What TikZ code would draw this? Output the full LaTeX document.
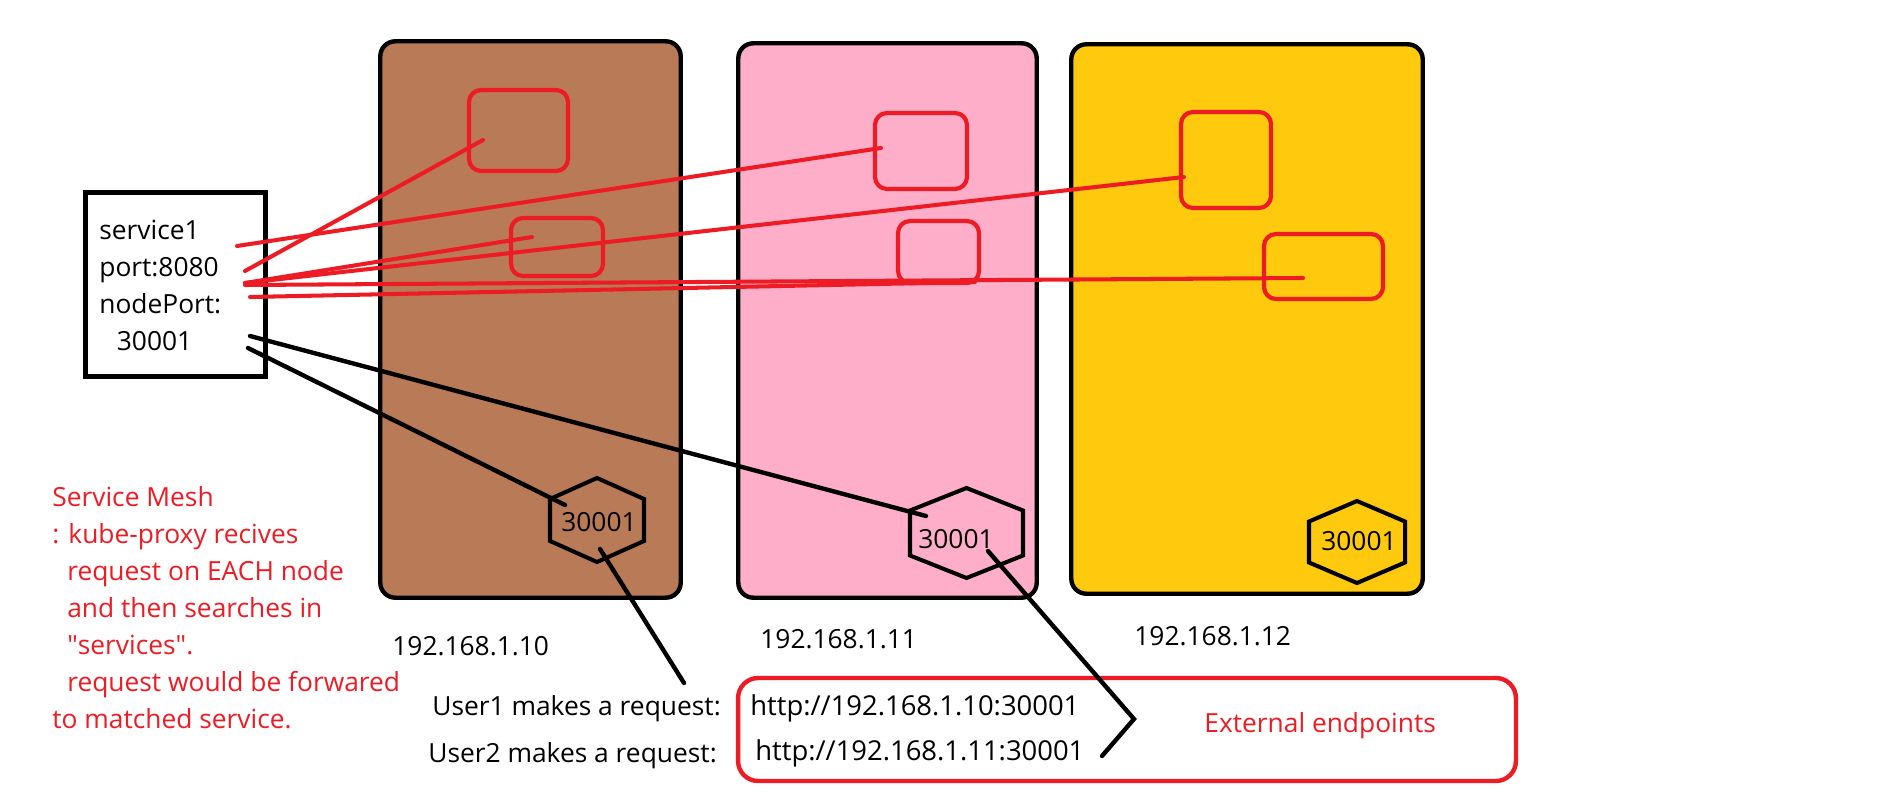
\documentclass[tikz,border=0pt]{standalone}
\usepackage{fontspec}
\setmainfont{Open Sans}
\usetikzlibrary{calc}
\usetikzlibrary{positioning}

\definecolor{nodebrown}{RGB}{185,122,87}
\definecolor{nodepink}{RGB}{255,174,201}
\definecolor{nodegold}{RGB}{255,201,14}
\definecolor{paintred}{RGB}{237,28,36}

\tikzset{
  hostbox/.style={draw=black, line width=2.5pt, rounded corners=0.3cm, inner sep=0pt},
  podbox/.style={draw=paintred, line width=2.4pt, rounded corners=0.24cm, inner sep=0pt},
  redwire/.style={paintred, line width=2.3pt, line cap=round},
  blackwire/.style={black, line width=2.5pt, line cap=round},
  hexedge/.style={black, line width=2.3pt, line join=miter},
  txt/.style={font=\fontsize{15}{21}\selectfont, inner sep=0pt},
}

\begin{document}
\begin{tikzpicture}[%
  x=0.02cm, y=-0.02cm,
]
  \useasboundingbox (0,0) rectangle (1892,797);

  % the three hosts
  \node[hostbox, fill=nodebrown, minimum width=6.01cm, minimum height=11.13cm] (hostA) at (530.5,319.5) {};
  \node[hostbox, fill=nodepink, minimum width=5.97cm, minimum height=11.09cm] (hostB) at (887.5,320.5) {};
  \node[hostbox, fill=nodegold, minimum width=7.03cm, minimum height=10.99cm] (hostC) at (1247,319) {};

  % pods
  \node[podbox, minimum width=1.98cm, minimum height=1.62cm] (podA1) at (518.5,130.5) {};
  \node[podbox, minimum width=1.84cm, minimum height=1.16cm] (podA2) at (557,247) {};
  \node[podbox, minimum width=1.84cm, minimum height=1.52cm] (podB1) at (921,151) {};
  \node[podbox, minimum width=1.62cm, minimum height=1.24cm] (podB2) at (938.5,252) {};
  \node[podbox, minimum width=1.80cm, minimum height=1.92cm] (podC1) at (1226,160) {};
  \node[podbox, minimum width=2.38cm, minimum height=1.30cm] (podC2) at (1323.5,266.5) {};

  % node ports
  \foreach \cx/\cy/\w/\h in {597/520/47/42, 966.5/533/56.5/45, 1357/542/48/41}
    \draw[hexedge] (\cx,\cy-\h) -- (\cx+\w,\cy-\h/2) -- (\cx+\w,\cy+\h/2)
      -- (\cx,\cy+\h) -- (\cx-\w,\cy+\h/2) -- (\cx-\w,\cy-\h/2) -- cycle;
  \node[txt] (portA) at (599,522) {30001};
  \node[txt] (portB) at (956,539) {30001};
  \node[txt] (portC) at (1359,541) {30001};

  % service
  \node[draw=black, line width=2.5pt, minimum width=3.6cm, minimum height=3.68cm] (svc) at (175.5,284.5) {};
  \node[txt, anchor=base west, align=left] (svctext) at (99,350)
    {service1\\port:8080\\nodePort:\\\hspace*{10pt}30001};

  \coordinate (s1) at (237,246);
  \coordinate (s2) at (245,271);
  \coordinate (s3) at (245,283);
  \coordinate (s4) at (245,285);
  \coordinate (s5) at (250,297);
  \coordinate (k1) at (250,336);
  \coordinate (k2) at (248,348);

  \draw[redwire] (s1) -- ($(podB1)+(-40,-3)$);
  \draw[redwire] (s2) -- ($(podA1)+(-35.5,9.5)$);
  \draw[redwire] (s3) -- ($(podA2)+(-25,-10)$);
  \draw[redwire] (s3) -- ($(podC1)+(-42,17)$);
  \draw[redwire] (s4) -- ($(podC2)+(-20.5,11.5)$);
  \draw[redwire] (s5) -- ($(podB2)+(36.5,30)$);

  \draw[blackwire] (k2) -- ($(portA)+(-34,-17)$);
  \draw[blackwire] (k1) -- ($(portB)+(-30,-23)$);

  % addresses
  \node[txt, anchor=base west] (ipA) at (392,655) {192.168.1.10};
  \node[txt, anchor=base west] (ipB) at (760,648) {192.168.1.11};
  \node[txt, anchor=base west] (ipC) at (1134,645) {192.168.1.12};

  % requests
  \node[draw=paintred, line width=2.5pt, rounded corners=0.4cm,
    minimum width=15.56cm, minimum height=2.06cm] (ext) at (1127,729.5) {};
  \node[txt, anchor=base west, text=paintred] (extlabel) at (1204,732) {External endpoints};
  \node[txt, anchor=base west] (user1) at (432,715) {User1 makes a request:};
  \node[txt, anchor=base west] (user2) at (428,762) {User2 makes a request:};
  \node[txt, anchor=base west, font=\fontsize{15.6}{21}\selectfont] (url1) at (750,715) {http://192.168.1.10:30001};
  \node[txt, anchor=base west, font=\fontsize{15.6}{21}\selectfont] (url2) at (755,760) {http://192.168.1.11:30001};

  \coordinate (u1) at (684,683);
  \coordinate (bend) at (1134,719);
  \coordinate (u2) at (1102,756);
  \draw[blackwire] ($(portA)+(1,27)$) -- (u1);
  \draw[blackwire] ($(portB)+(32,12)$) -- (bend) -- (u2);

  % note
  \node[txt, anchor=base west, text=paintred, align=left] (note) at (52,728)
    {Service Mesh\\
     : kube-proxy recives\\
     \hspace*{8.5pt}request on EACH node\\
     \hspace*{8.5pt}and then searches in\\
     \hspace*{8.5pt}\textquotedbl services\textquotedbl.\\
     \hspace*{8.5pt}request would be forwared\\
     to matched service.};

\end{tikzpicture}
\end{document}
